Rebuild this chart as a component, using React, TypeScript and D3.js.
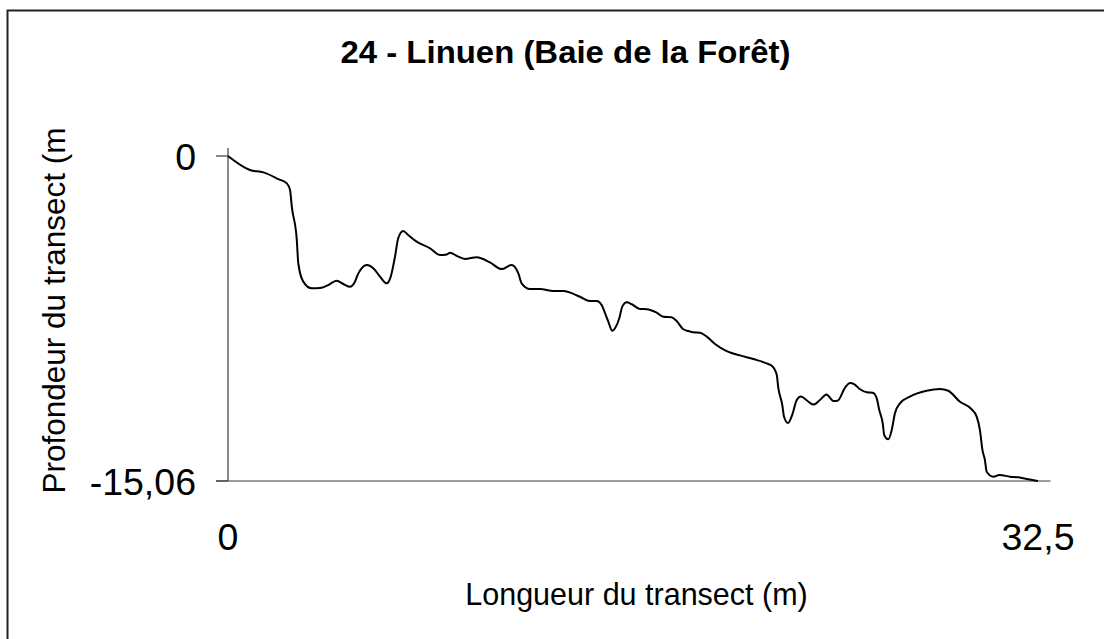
import React from "react";
import * as d3 from "d3";

// Transect profile: distance along the transect (m) and depth (m)
const distances: number[] = [
  0, 0.88, 1.42, 2.02, 2.36, 2.49, 2.56, 2.76, 2.82, 3.02, 3.36, 3.76, 4.02, 4.36, 4.63,
  4.9, 5.06, 5.23, 5.57, 5.83, 6.1, 6.37, 6.53, 6.7, 6.83, 7.03, 7.23, 7.57, 8.11, 8.51,
  8.78, 8.91, 9.18, 9.51, 9.98, 10.51, 10.98, 11.38, 11.65, 11.78, 12.12, 12.52, 13.05,
  13.45, 14.12, 14.52, 14.79, 14.99, 15.13, 15.26, 15.42, 15.53, 15.7, 15.82, 16.0, 16.2,
  16.53, 16.8, 17.2, 17.47, 17.8, 18.0, 18.27, 18.47, 18.67, 18.94, 19.21, 19.54, 20.01,
  20.54, 21.08, 21.61, 21.83, 22.02, 22.07, 22.24, 22.31, 22.47, 22.66, 22.81, 22.99,
  23.24, 23.48, 23.75, 24.01, 24.29, 24.46, 24.76, 24.96, 25.12, 25.36, 25.63, 25.87,
  26.03, 26.13, 26.27, 26.33, 26.49, 26.63, 26.76, 26.96, 27.36, 28.03, 28.57, 28.9,
  29.37, 29.84, 30.04, 30.17, 30.27, 30.37, 30.44, 30.71, 30.95, 31.38, 31.71, 32.11, 32.5,
];

const depths: number[] = [
  0, -0.65, -0.76, -1.07, -1.27, -1.58, -2.35, -3.89, -4.97, -5.82, -6.13, -6.1, -5.98,
  -5.78, -5.93, -6.06, -5.9, -5.44, -5.05, -5.2, -5.59, -5.9, -5.59, -4.67, -3.81, -3.48,
  -3.66, -3.97, -4.28, -4.59, -4.56, -4.48, -4.63, -4.77, -4.69, -4.93, -5.24, -5.05,
  -5.44, -5.9, -6.16, -6.16, -6.26, -6.26, -6.52, -6.72, -6.72, -6.9, -7.29, -7.68, -8.1,
  -7.98, -7.52, -6.98, -6.78, -6.87, -7.09, -7.1, -7.26, -7.45, -7.47, -7.65, -8.03,
  -8.11, -8.17, -8.19, -8.37, -8.71, -9.04, -9.24, -9.41, -9.61, -9.73, -10.15, -10.66,
  -11.54, -12.08, -12.37, -11.92, -11.33, -11.15, -11.34, -11.52, -11.31, -11.05, -11.35,
  -11.34, -10.73, -10.52, -10.57, -10.81, -10.95, -10.97, -11.23, -11.77, -12.39, -12.93,
  -13.13, -12.7, -11.92, -11.46, -11.15, -10.88, -10.8, -10.88, -11.39, -11.74, -12.08,
  -12.7, -13.62, -14.09, -14.63, -14.86, -14.78, -14.86, -14.89, -14.98, -15.06,
];

const xTickValues: number[] = [0, 32.5];
const xTickLabels: string[] = ["0", "32,5"];
const yTickValues: number[] = [0, -15.06];
const yTickLabels: string[] = ["0", "-15,06"];

const xAxisMax = 33;
const yAxisMax = 0.37;

const title = "24 - Linuen (Baie de la Forêt)";
const xTitle = "Longueur du transect (m)";
const yTitle = "Profondeur du transect (m)";

const W = 1104;
const H = 639;
const FONT = "'Liberation Sans', Arial, Helvetica, sans-serif";

export default function App() {
  const x = d3.scaleLinear().domain([0, 32.5]).range([228, 1038]);
  const y = d3.scaleLinear().domain([-15.06, 0]).range([481, 156]);

  const points: [number, number][] = distances.map((d, i) => [d, depths[i]]);
  const line = d3
    .line<[number, number]>()
    .x((p) => x(p[0]))
    .y((p) => y(p[1]))
    .curve(d3.curveMonotoneX);

  const axisColor = "#3c3c3c";
  const x0 = x(0);
  const yBottom = y(-15.06);

  return (
    <svg
      width={W}
      height={H}
      viewBox={`0 0 ${W} ${H}`}
      style={{ position: "absolute", left: 0, top: 0, background: "#fff" }}
    >
      <defs>
        <clipPath id="ytitle-clip">
          <rect x={0} y={127} width={120} height={400} />
        </clipPath>
      </defs>
      <rect x={0} y={0} width={W} height={H} fill="#fff" />
      {/* outer frame */}
      <rect x={7.5} y={10.5} width={W + 20} height={H + 20} fill="none" stroke="#222" strokeWidth={2} />

      <text
        x={565.5}
        y={63}
        textAnchor="middle"
        fontFamily={FONT}
        fontWeight="bold"
        fontSize={31}
        textLength={450}
        lengthAdjust="spacingAndGlyphs"
        fill="#000"
      >
        {title}
      </text>

      {/* axes */}
      <line x1={x0} x2={x0} y1={y(yAxisMax)} y2={yBottom} stroke={axisColor} strokeWidth={1.2} />
      <line x1={x0 - 12} x2={x(xAxisMax)} y1={yBottom} y2={yBottom} stroke={axisColor} strokeWidth={1.2} />
      {yTickValues.map((v) => (
        <line key={"yt" + v} x1={x0 - 12} x2={x0} y1={y(v)} y2={y(v)} stroke={axisColor} strokeWidth={1.2} />
      ))}

      {yTickValues.map((v, i) => (
        <text
          key={"yl" + v}
          x={196}
          y={y(v) + 13.5}
          textAnchor="end"
          fontFamily={FONT}
          fontSize={37.5}
          fill="#000"
        >
          {yTickLabels[i]}
        </text>
      ))}
      {xTickValues.map((v, i) => (
        <text
          key={"xl" + v}
          x={x(v)}
          y={550}
          textAnchor="middle"
          fontFamily={FONT}
          fontSize={37.5}
          fill="#000"
        >
          {xTickLabels[i]}
        </text>
      ))}

      <text x={636.5} y={605} textAnchor="middle" fontFamily={FONT} fontSize={30.5} fill="#000">
        {xTitle}
      </text>
      <g clipPath="url(#ytitle-clip)">
        <text
          transform="translate(65,493.5) rotate(-90)"
          textAnchor="start"
          fontFamily={FONT}
          fontSize={31.5}
          fill="#000"
        >
          {yTitle}
        </text>
      </g>

      <path d={line(points) ?? ""} fill="none" stroke="#000" strokeWidth={2} strokeLinejoin="round" />
    </svg>
  );
}
